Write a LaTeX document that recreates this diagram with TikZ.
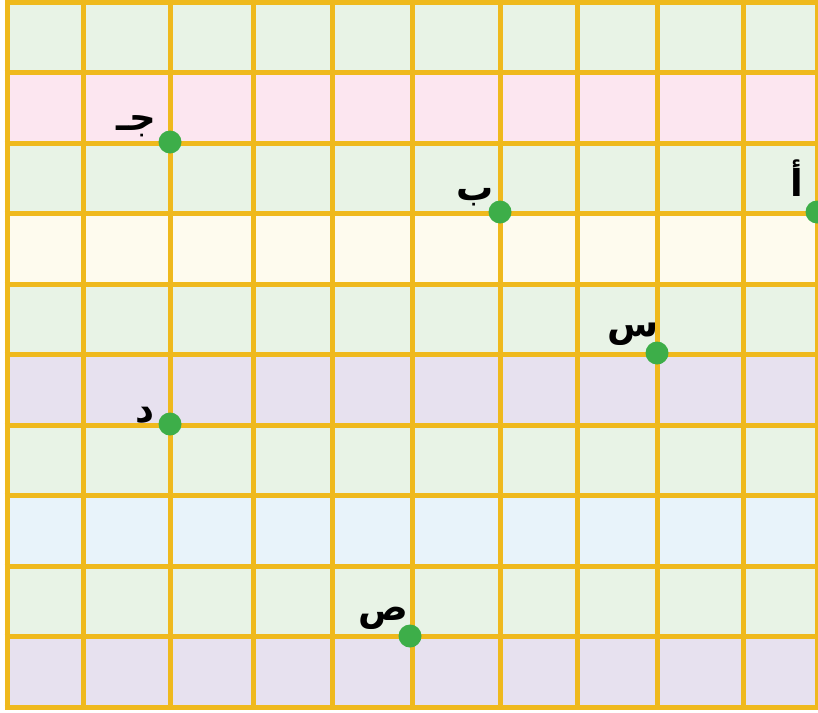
\documentclass[tikz,border=0pt]{standalone}
\usepackage{fontspec}
\newfontfamily\arabicfont[Script=Arabic]{DejaVu Sans}
\TeXXeTstate=1
\usetikzlibrary{positioning}
\definecolor{gridgold}{HTML}{EFB91D}
\definecolor{dotgreen}{HTML}{3DAE49}
\definecolor{rowgreen}{HTML}{E8F3E6}
\definecolor{rowpink}{HTML}{FCE6F0}
\definecolor{rowcream}{HTML}{FEFBEE}
\definecolor{rowlilac}{HTML}{E7E1EF}
\definecolor{rowblue}{HTML}{E8F3FA}

\begin{document}
\begin{tikzpicture}[x=1pt, y=-1pt,
    dot/.style={circle, fill=dotgreen, inner sep=0pt, minimum size=23pt},
    lbl/.style={font=\arabicfont\bfseries\fontsize{37}{40}\selectfont, inner sep=0pt}]
    \useasboundingbox (0,0) rectangle (818,712);
    \clip (0,0) rectangle (818,712);

    % صفوف ملونة
    \foreach \c [count=\i from 0] in {rowgreen,rowpink,rowgreen,rowcream,rowgreen,rowlilac,rowgreen,rowblue,rowgreen,rowlilac} {
        \fill[\c] (7,{2+70.5*\i}) rectangle (818,{2+70.5*(\i+1)});
    }

    % الشبكة
    \foreach \x in {7,83,170,253,332,412,500,577,657,743,817} {
        \draw[gridgold, line width=5pt] (\x,0) -- (\x,709.5);
    }
    \foreach \y in {2,72.5,143,213.5,284,354.5,425,495.5,566,636.5,707} {
        \draw[gridgold, line width=5pt] (4.5,\y) -- (818,\y);
    }

    % النقاط
    \node[dot] (ja)   at (170,142) {};
    \node[dot] (ba)   at (500,212) {};
    \node[dot] (alif) at (817,212) {};
    \node[dot] (sin)  at (657,353) {};
    \node[dot] (dal)  at (170,424) {};
    \node[dot] (sad)  at (410,636) {};

    % الحروف
    \node[lbl] (lja)   at ([shift={(-34,-16)}]ja)   {\beginR جـ\endR};
    \node[lbl] (lba)   at ([shift={(-25,-15)}]ba)   {\beginR ب\endR};
    \node[lbl] (lalif) at ([shift={(-20,-34)}]alif) {\beginR أ\endR};
    \node[lbl] (lsin)  at ([shift={(-24,-19)}]sin)  {\beginR س\endR};
    \node[lbl] (ldal)  at ([shift={(-25,-9)}]dal)   {\beginR د\endR};
    \node[lbl] (lsad)  at ([shift={(-27,-18)}]sad)  {\beginR ص\endR};
\end{tikzpicture}
\end{document}
